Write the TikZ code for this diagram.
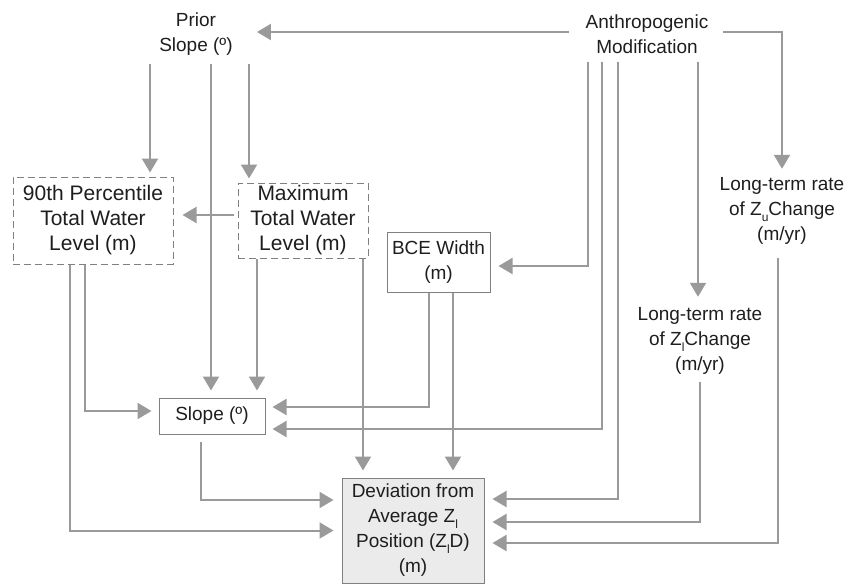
\documentclass[tikz,border=0pt]{standalone}
\usepackage{xcolor}
\usepackage{fontspec}
\setmainfont{Liberation Sans}
\usepackage{tikz}
\usetikzlibrary{arrows.meta}

\definecolor{linkgray}{HTML}{9A9A9A}
\definecolor{boxgray}{HTML}{808080}
\definecolor{devfill}{HTML}{EBEBEB}
\definecolor{inkgray}{HTML}{1E1E1E}

\newcommand{\lowsub}[1]{\raisebox{-6pt}{\fontsize{12}{12}\selectfont #1}}

\begin{document}
\begin{tikzpicture}[
			x=1pt,y=-1pt,
			>={Triangle[length=14pt,width=16pt]},
			font=\fontsize{19}{25}\selectfont,
			txt/.style={align=center,inner sep=8pt,text=inkgray},
			box/.style={draw=boxgray,line width=1pt,align=center,inner sep=0pt,text=inkgray},
			dbox/.style={box,dash pattern=on 7pt off 4pt,font=\fontsize{21}{25}\selectfont},
			link/.style={->,draw=linkgray,line width=2pt,shorten >=7pt}
		]
		\useasboundingbox (0,0) rectangle (859,584);

		\node[txt] (prior) at (196,34) {Prior\\Slope (º)};
		\node[txt] (anthro) at (647,34) {Anthropogenic\\Modification};
		\node[dbox,minimum width=160pt,minimum height=87pt] (ptile) at (93,220.5) {90th Percentile\\Total Water\\Level (m)};
		\node[dbox,minimum width=130pt,minimum height=75pt] (maxtwl) at (303,220.5) {Maximum\\Total Water\\Level (m)};
		\node[box,minimum width=103pt,minimum height=60pt] (bce) at (438.5,262) {BCE Width\\(m)};
		\node[box,minimum width=106pt,minimum height=36pt] (slope) at (212,416) {Slope (º)};
		\node[box,fill=devfill,minimum width=142pt,minimum height=105pt] (dev) at (413,530.5) {Deviation from\\Average Z\lowsub{l}\\Position (Z\lowsub{l}D)\\(m)};
		\node[txt] (ratezu) at (782,210.5) {Long-term rate\\of Z\lowsub{u}Change\\(m/yr)};
		\node[txt] (ratezl) at (700,340.5) {Long-term rate\\of Z\lowsub{l}Change\\(m/yr)};

		\draw[link,shorten <=9pt,shorten >=16pt] ([yshift=2pt]anthro.west) -- ([yshift=2pt]prior.east);
		\draw[link,shorten >=4pt] ([xshift=-46pt]prior.south) -- ([xshift=-46pt]prior.south |- ptile.north);
		\draw[link,shorten >=4pt] ([xshift=53pt]prior.south) -- ([xshift=53pt]prior.south |- maxtwl.north);
		\draw[link] ([xshift=15pt]prior.south) -- ([xshift=15pt]prior.south |- slope.north);

		\draw[link,shorten <=4pt,shorten >=9pt] ([yshift=5.5pt]maxtwl.west) -- ([yshift=5.5pt]ptile.east);
		\draw[link] ([xshift=-8pt]ptile.south) |- ([yshift=5pt]slope.west);
		\draw[link,shorten >=8pt] ([xshift=-23pt]ptile.south) |- (dev.west);
		\draw[link] ([xshift=-46pt]maxtwl.south) -- ([xshift=-46pt]maxtwl.south |- slope.north);
		\draw[link] ([xshift=60pt]maxtwl.south) -- ([xshift=60pt]maxtwl.south |- dev.north);

		\draw[link,shorten <=7pt,shorten >=8pt] ([xshift=-11pt]slope.south) |- ([yshift=30.5pt]dev.west);
		\draw[link] ([xshift=-9.5pt]bce.south) |- ([yshift=9pt]slope.east);
		\draw[link] ([xshift=14.5pt]bce.south) -- ([xshift=14.5pt]bce.south |- dev.north);

		\draw[link,shorten >=8pt] ([xshift=-59pt]anthro.south) |- ([yshift=-4pt]bce.east);
		\draw[link] ([xshift=-45pt]anthro.south) |- ([yshift=-13pt]slope.east);
		\draw[link,shorten >=8pt] ([xshift=-29pt]anthro.south) |- ([yshift=31.5pt]dev.east);
		\draw[link,shorten >=2pt] ([xshift=51pt]anthro.south) -- ([xshift=51pt]anthro.south |- ratezl.north);
		\draw[link,shorten <=7pt,shorten >=0pt] ([yshift=2pt]anthro.east) -| (ratezu.north);

		\draw[link,shorten >=8pt] (ratezl.south) |- ([yshift=8.5pt]dev.east);
		\draw[link,shorten <=6pt,shorten >=8pt] ([xshift=-4pt]ratezu.south) |- ([yshift=-12.5pt]dev.east);
	\end{tikzpicture}
\end{document}
